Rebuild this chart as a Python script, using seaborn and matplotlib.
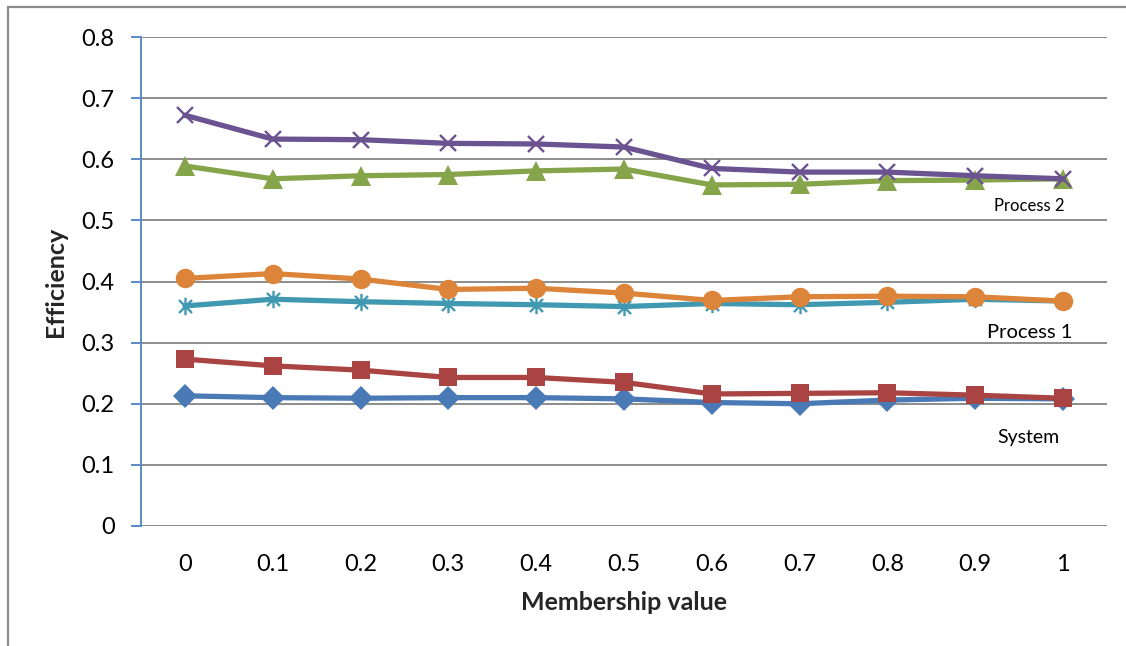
import numpy as np
import pandas as pd
import seaborn as sns
import matplotlib
matplotlib.use("Agg")
import matplotlib.pyplot as plt
from matplotlib.path import Path
from matplotlib.patches import Rectangle

# Membership values on the category axis
membership = ["0", "0.1", "0.2", "0.3", "0.4", "0.5", "0.6", "0.7", "0.8", "0.9", "1"]

# Efficiency curves (two per group)
system_a = [0.213, 0.210, 0.209, 0.210, 0.210, 0.208, 0.202, 0.200, 0.206, 0.209, 0.208]
system_b = [0.273, 0.262, 0.255, 0.243, 0.243, 0.235, 0.216, 0.217, 0.218, 0.214, 0.209]
process1_a = [0.360, 0.371, 0.367, 0.364, 0.362, 0.359, 0.364, 0.362, 0.366, 0.371, 0.368]
process1_b = [0.405, 0.413, 0.404, 0.387, 0.389, 0.381, 0.369, 0.375, 0.376, 0.375, 0.368]
process2_a = [0.589, 0.568, 0.573, 0.575, 0.581, 0.584, 0.558, 0.559, 0.565, 0.566, 0.568]
process2_b = [0.672, 0.633, 0.632, 0.626, 0.625, 0.620, 0.585, 0.579, 0.579, 0.573, 0.568]

y_ticks = [0, 0.1, 0.2, 0.3, 0.4, 0.5, 0.6, 0.7, 0.8]
y_tick_labels = ["0", "0.1", "0.2", "0.3", "0.4", "0.5", "0.6", "0.7", "0.8"]

# Asterisk marker: vertical bar plus a diagonal cross
asterisk = Path(
    [(0, -1), (0, 1), (-0.75, -0.75), (0.75, 0.75), (-0.75, 0.75), (0.75, -0.75)],
    [Path.MOVETO, Path.LINETO, Path.MOVETO, Path.LINETO, Path.MOVETO, Path.LINETO],
)

series = [
    ("System A", system_a, "#4A7AB5", "D", 12.5, True),
    ("System B", system_b, "#A94442", "s", 12.5, True),
    ("Process 1 A", process1_a, "#4199B1", asterisk, 12.5, False),
    ("Process 1 B", process1_b, "#DD843B", "o", 14, True),
    ("Process 2 A", process2_a, "#86A44A", "^", 14, True),
    ("Process 2 B", process2_b, "#6B5290", "x", 12, False),
]

sns.set_theme(style="white")
plt.rcParams["font.family"] = ["Lato", "DejaVu Sans"]

fig = plt.figure(figsize=(11.26, 6.46), dpi=100)
ax = fig.add_axes([141 / 1126, 1 - 526 / 646, (1107 - 141) / 1126, (526 - 37) / 646])

for name, vals, color, marker, ms, filled in series:
    df = pd.DataFrame({"membership": membership, "efficiency": vals})
    kw = dict(markeredgecolor=color)
    if filled:
        kw["markerfacecolor"] = color
        kw["markeredgewidth"] = 0
    else:
        kw["markeredgewidth"] = 1.7
    sns.lineplot(data=df, x="membership", y="efficiency", color=color,
                 marker=marker, markersize=ms, linewidth=3.8, sort=False,
                 ax=ax, legend=False, **kw)

ax.set_xlim(-0.5, 10.5)
ax.set_ylim(0, 0.8)
ax.set_yticks(y_ticks)
ax.set_yticklabels(y_tick_labels)
ax.yaxis.grid(True, color="#8C8C8C", linewidth=1.4)
ax.xaxis.grid(False)
ax.set_axisbelow(True)

for side in ["top", "right", "bottom"]:
    ax.spines[side].set_visible(False)
ax.spines["left"].set_color("#5B8ACB")
ax.spines["left"].set_linewidth(1.4)

ax.tick_params(axis="y", which="major", left=True, length=7, width=1.4,
               color="#5B8ACB", labelsize=17, labelcolor="black", pad=12)
ax.tick_params(axis="x", which="major", bottom=False, labelsize=17,
               labelcolor="black", pad=14)

ax.set_xlabel("Membership value", fontsize=18, fontweight="bold", labelpad=12)
ax.set_ylabel("Efficiency", fontsize=18, fontweight="bold", labelpad=10)

# Group labels beside the curves
ax.text(9.62, 0.523, "Process 2", fontsize=12, ha="center", va="center", color="black")
ax.text(9.62, 0.316, "Process 1", fontsize=14.5, ha="center", va="center", color="black")
ax.text(9.61, 0.144, "System", fontsize=14, ha="center", va="center", color="black")

# Outer chart frame
fig.patches.append(Rectangle((8 / 1126, -0.2), 1.2, 1.2 - 6.5 / 646,
                             transform=fig.transFigure, fill=False,
                             edgecolor="#8A8A8A", linewidth=1.6, zorder=5))

fig.savefig("out.png", dpi=100)
